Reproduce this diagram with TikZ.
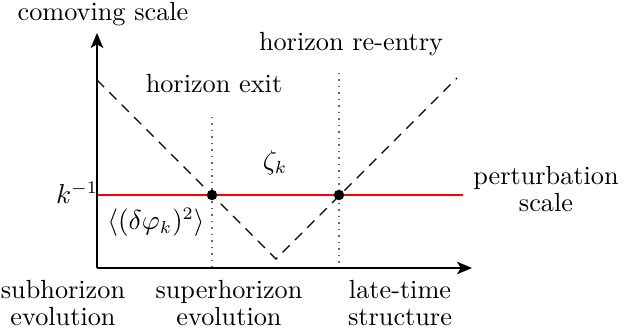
\documentclass[tikz,border=0pt]{standalone}
\usetikzlibrary{arrows.meta}
\begin{document}
\begin{tikzpicture}[x=0.4pt,y=-0.4pt,
  axis/.style={line width=0.8pt,-{Stealth[length=6pt,width=5pt,inset=1.5pt]}},
  guide/.style={dotted,gray!80!black,line width=0.6pt},
  curve/.style={dashed,line width=0.55pt,dash pattern=on 4pt off 3pt},
  scaleline/.style={red,line width=0.5pt},
  pt/.style={circle,fill=black,inner sep=0pt,minimum size=4.2pt},
  lbl/.style={align=center,inner sep=0pt,font=\fontsize{10.5}{11}\selectfont}]
\useasboundingbox (0,0) rectangle (624,330);
% axes
\coordinate (O) at (97,268);
\coordinate (ytip) at (97,33);
\coordinate (xtip) at (472,268);
% guides
\coordinate (g1t) at (212,117);
\coordinate (g1b) at (212,272);
\coordinate (g2t) at (339,73);
\coordinate (g2b) at (339,272);
\draw[guide] (g1t) -- (g1b);
\draw[guide] (g2t) -- (g2b);
% perturbation scale
\coordinate (rl) at (97,195);
\coordinate (rr) at (463,195);
\draw[scaleline] (rl) -- (rr);
% horizon curve
\coordinate (c0) at (97,80);
\coordinate (cm) at (276,259);
\coordinate (c1) at (457,78);
\draw[curve] (c0) -- (cm) -- (c1);
\draw[axis] (O) -- (ytip);
\draw[axis] (O) -- (xtip);
% crossing points
\node[pt] (p1) at (212,195) {};
\node[pt] (p2) at (339,195) {};
% labels
\node[lbl] (ylab) at (103,14) {comoving scale};
\node[lbl] (reent) at (351,44) {horizon re-entry};
\node[lbl] (exit) at (214,84) {horizon exit};
\node[lbl] (zeta) at (275,163) {$\zeta_k$};
\node[lbl] (kinv) at (77,193) {$k^{-1}$};
\node[lbl] (dphi) at (156,222) {$\langle(\delta\varphi_k)^2\rangle$};
\node[lbl] (pscale) at (546,189) {perturbation\\scale};
\node[lbl] (sub) at (63,303) {subhorizon\\evolution};
\node[lbl] (sup) at (229,303) {superhorizon\\evolution};
\node[lbl] (late) at (400,303) {late-time\\structure};
\end{tikzpicture}
\end{document}
